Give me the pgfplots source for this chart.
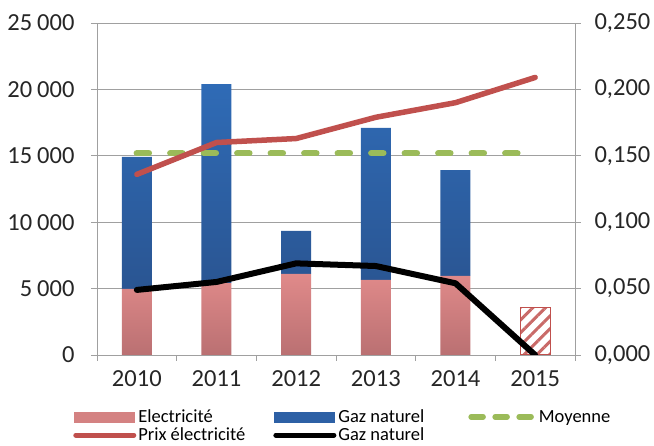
\documentclass[border=0pt]{standalone}
\usepackage{fontspec}
\setmainfont{Carlito}
\usepackage{pgfplots}
\pgfplotsset{compat=1.18}
\usetikzlibrary{patterns.meta}

\definecolor{elecTop}{HTML}{E08A8A}
\definecolor{elecBot}{HTML}{BA7072}
\definecolor{elecMid}{HTML}{D48282}
\definecolor{gazTop}{HTML}{2F6BB6}
\definecolor{gazBot}{HTML}{2A5592}
\definecolor{gazMid}{HTML}{2D60A5}
\definecolor{prixRed}{HTML}{C0504D}
\definecolor{moyGreen}{HTML}{9BBB59}
\definecolor{axisGray}{HTML}{A0A0A0}

\pgfplotsset{
  base/.style={
    scale only axis, width=478pt, height=332pt,
    xmin=-0.5, xmax=5.5,
    /pgf/number format/assume math mode=true,
    tick align=outside,
    major tick length=6pt, minor tick length=6pt,
    tick style={axisGray, line width=0.6pt},
    axis line style={axisGray, line width=0.6pt},
    ticklabel style={font=\fontsize{24.5}{28}\selectfont, text=black!85},
  },
}

\begin{document}
\begin{tikzpicture}
\useasboundingbox (-97pt,-91pt) rectangle (557pt,355pt);

% bars, left axis
\begin{axis}[base,
  ybar stacked, bar width=30pt,
  ymin=0, ymax=25000,
  scaled y ticks=false,
  ytick={0,5000,10000,15000,20000,25000},
  yticklabels={0,5\kern5pt000,10\kern5pt000,15\kern5pt000,20\kern5pt000,25\kern5pt000},
  ytick pos=left,
  yticklabel style={xshift=-13pt},
  ymajorgrids, grid style={axisGray, line width=0.6pt},
  xtick={0,1,2,3,4,5},
  xticklabels={2010,2011,2012,2013,2014,2015},
  xticklabel style={yshift=-6pt},
  xtick pos=bottom,
  major x tick style={draw=none},
  minor xtick={-0.5,0.5,1.5,2.5,3.5,4.5,5.5},
]
\addplot[draw=none, top color=elecTop, bottom color=elecBot]
  coordinates {(0,4970) (1,5420) (2,6100) (3,5650) (4,5950)};
\addplot[draw=none, top color=gazTop, bottom color=gazBot]
  coordinates {(0,9940) (1,14980) (2,3240) (3,11450) (4,7980)};
\end{axis}

% hatched 2015 bar
\begin{axis}[base, hide axis, ybar, bar width=30pt, ymin=0, ymax=25000]
\addplot[draw=prixRed, line width=1pt,
  pattern={Lines[angle=45, distance=9pt, line width=3pt]}, pattern color=prixRed!85]
  coordinates {(5,3540)};
\end{axis}

% lines, right axis
\begin{axis}[base,
  axis x line=none, axis y line*=right,
  ymin=0, ymax=0.25,
  ytick={0,0.05,0.1,0.15,0.2,0.25},
  yticklabel style={xshift=10pt, /pgf/number format/.cd, fixed, fixed zerofill, precision=3, use comma},
  legend columns=3,
  legend style={at={(rel axis cs:-0.050,-0.158)}, anchor=north west,
    draw=none, fill=none, inner sep=0pt, row sep=0pt,
    font=\fontsize{18.5}{22}\selectfont,
    nodes={inner sep=2pt},
    /tikz/column 2/.style={column sep=26pt},
    /tikz/column 4/.style={column sep=42pt}},
  legend cell align=left,
]
\addplot[forget plot, moyGreen, line width=6.5pt, line cap=round,
  dash pattern=on 12pt off 21.5pt]
  coordinates {(0,0.152) (5,0.152)};
\addplot[forget plot, prixRed, line width=5.5pt, line cap=round, line join=round]
  coordinates {(0,0.136) (1,0.160) (2,0.163) (3,0.179) (4,0.190) (5,0.209)};
\addplot[forget plot, black, line width=6pt, line cap=round, line join=round]
  coordinates {(0,0.049) (1,0.055) (2,0.069) (3,0.067) (4,0.054) (5,0.000)};

\addlegendimage{legend image code/.code={\fill[elecMid] (0pt,-5pt) rectangle (60pt,5pt);}}
\addlegendentry{Electricité}
\addlegendimage{legend image code/.code={\fill[gazMid] (0pt,-5pt) rectangle (60pt,5pt);}}
\addlegendentry{Gaz naturel}
\addlegendimage{legend image code/.code={\draw[moyGreen, line width=5.5pt, line cap=round, dash pattern=on 12pt off 12pt] (3pt,0pt) -- (66pt,0pt);}}
\addlegendentry{Moyenne}
\addlegendimage{legend image code/.code={\draw[prixRed, line width=5pt, line cap=round] (2pt,0pt) -- (60pt,0pt);}}
\addlegendentry{Prix électricité}
\addlegendimage{legend image code/.code={\draw[black, line width=5pt, line cap=round] (2pt,0pt) -- (60pt,0pt);}}
\addlegendentry{Gaz naturel}
\end{axis}
\end{tikzpicture}
\end{document}
